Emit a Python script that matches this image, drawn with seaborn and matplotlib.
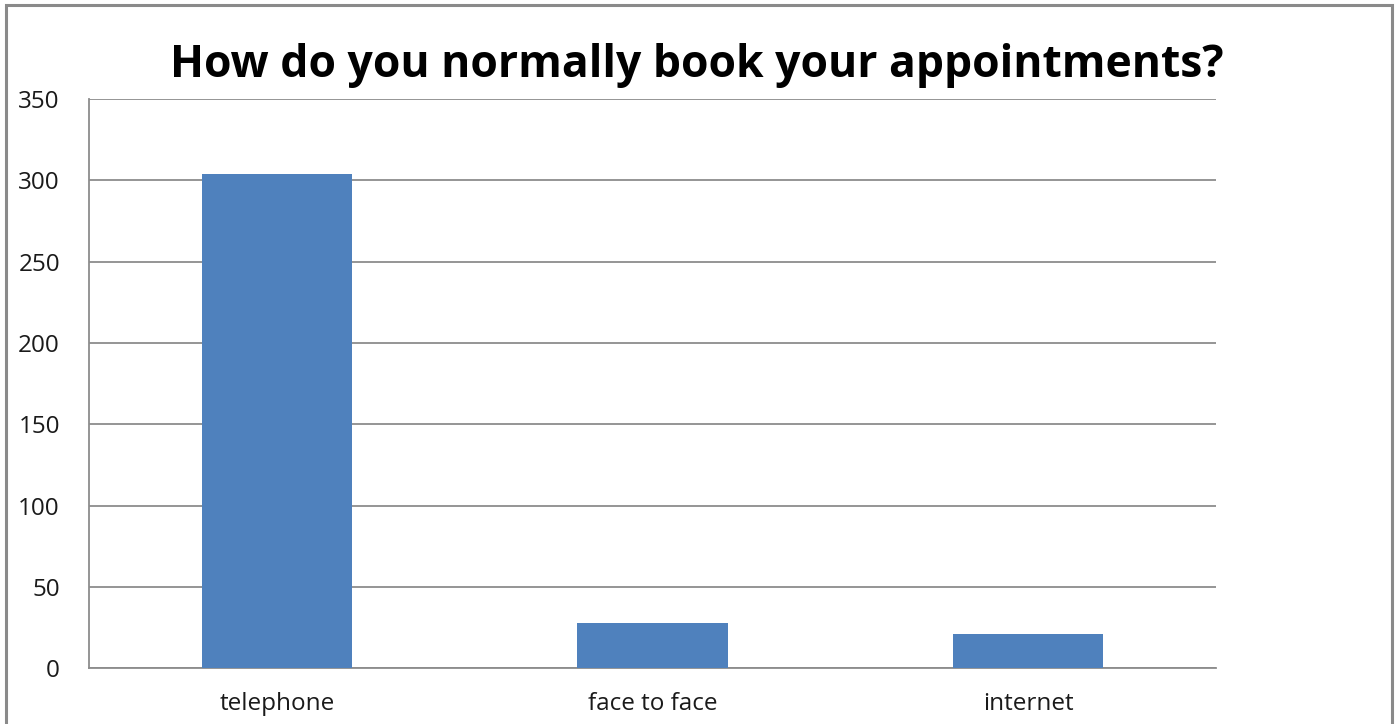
import matplotlib
matplotlib.use("Agg")
import matplotlib.pyplot as plt
import matplotlib.patches as mpatches
from matplotlib.ticker import FixedLocator, NullFormatter
import seaborn as sns
import pandas as pd

# Survey responses: booking method
categories = ["telephone", "face to face", "internet"]
counts = [304, 28, 21]
y_ticks = [0, 50, 100, 150, 200, 250, 300, 350]

sns.set_style("white")
plt.rcParams["font.family"] = ["Open Sans", "DejaVu Sans"]

df = pd.DataFrame({"method": categories, "count": counts})

fig = plt.figure(figsize=(13.98, 7.24), dpi=100)
ax = fig.add_axes([0.0637, 0.0769, 0.8061, 0.7864])

grid_color = "#8c8c8c"
sns.barplot(data=df, x="method", y="count", color="#4F81BD", width=0.4,
            saturation=1, ax=ax, zorder=3, edgecolor="none")

ax.set_ylim(0, 350)
ax.set_xlim(-0.5, len(categories) - 0.5)
ax.set_yticks(y_ticks)
ax.set_yticklabels([str(v) for v in y_ticks])
ax.yaxis.grid(True, color=grid_color, linewidth=1.3, zorder=0)
ax.set_axisbelow(True)
ax.set_xlabel("")
ax.set_ylabel("")

# category separator ticks below the axis
ax.xaxis.set_minor_locator(FixedLocator([i - 0.5 for i in range(len(categories) + 1)]))
ax.xaxis.set_minor_formatter(NullFormatter())
ax.tick_params(axis="x", which="major", length=0, pad=17, labelsize=17.5, colors="#1a1a1a")
ax.tick_params(axis="x", which="minor", length=11, width=1.3, color=grid_color, direction="out")
ax.tick_params(axis="y", which="major", length=11, width=1.3, color=grid_color, direction="out",
               pad=10, labelsize=17.5, labelcolor="#1a1a1a")

for side in ["top", "right"]:
    ax.spines[side].set_visible(False)
for side in ["left", "bottom"]:
    ax.spines[side].set_color(grid_color)
    ax.spines[side].set_linewidth(1.3)

fig.suptitle("How do you normally book your appointments?", x=0.4985, y=0.94,
             fontsize=32, fontweight="bold", color="black", va="top")

# outer chart frame
frame = mpatches.Rectangle((6 / 1398, -0.05), (1392 - 6) / 1398, (724 + 36 - 5) / 724,
                           transform=fig.transFigure, fill=False,
                           edgecolor="#8a8a8a", linewidth=2.2, zorder=10)
fig.patches.append(frame)

fig.savefig("out.png", dpi=100)
